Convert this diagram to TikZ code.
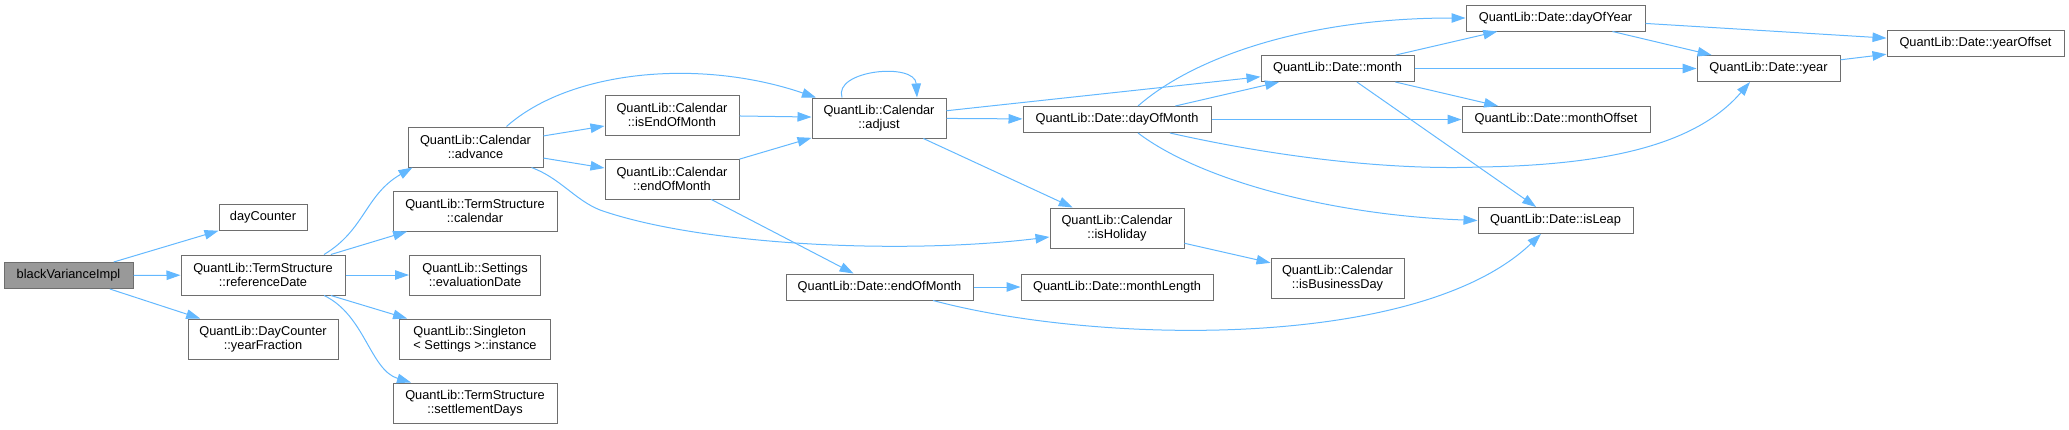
\documentclass[tikz,border=0pt]{standalone}
\usepackage{fontspec}
\setmainfont{Liberation Sans}
\usetikzlibrary{arrows.meta}
\definecolor{edgeblue}{HTML}{63B8FF}
\definecolor{nodeborder}{HTML}{6E6E6E}
\definecolor{rootfill}{HTML}{999999}
\begin{document}
\begin{tikzpicture}[x=1pt,y=-1pt,
  font=\fontsize{12.8}{14.5}\selectfont,
  fn/.style={draw=nodeborder, fill=white, line width=1pt, inner sep=0pt, align=center, minimum height=40pt},
  one/.style={fn, minimum height=26pt},
  edge/.style={draw=edgeblue, line width=1pt, -{Triangle[length=14pt,width=9.5pt]}}]
\useasboundingbox (0,0) rectangle (2069,429);
% nodes
\node[one, fill=rootfill, minimum width=129pt] (bvi) at (68.5,275.5) {blackVarianceImpl};
\node[one, minimum width=88pt] (dc) at (263,217.5) {dayCounter};
\node[fn, minimum width=164pt] (rd) at (263,275) {QuantLib::TermStructure\\::referenceDate};
\node[fn, minimum width=150pt] (yf) at (263,339) {QuantLib::DayCounter\\::yearFraction};
\node[fn, minimum width=164pt] (tsc) at (475,211) {QuantLib::TermStructure\\::calendar};
\node[fn, minimum width=131pt] (ed) at (475,275) {QuantLib::Settings\\::evaluationDate};
\node[fn, minimum width=151pt, align=left] (inst) at (475,339) {QuantLib::Singleton\\< Settings >::instance};
\node[fn, minimum width=164pt] (sd) at (475,403) {QuantLib::TermStructure\\::settlementDays};
\node[fn, minimum width=135pt] (adv) at (475.5,147) {QuantLib::Calendar\\::advance};
\node[fn, minimum width=134pt] (ieom) at (672,115) {QuantLib::Calendar\\::isEndOfMonth};
\node[fn, minimum width=134pt] (ceom) at (672,179) {QuantLib::Calendar\\::endOfMonth};
\node[fn, minimum width=134pt] (adj) at (879,118) {QuantLib::Calendar\\::adjust};
\node[one, minimum width=187pt] (deom) at (879.5,287) {QuantLib::Date::endOfMonth};
\node[one, minimum width=188pt] (dom) at (1117,119.5) {QuantLib::Date::dayOfMonth};
\node[fn, minimum width=134pt] (ih) at (1117,228) {QuantLib::Calendar\\::isHoliday};
\node[one, minimum width=192pt] (ml) at (1117,287) {QuantLib::Date::monthLength};
\node[one, minimum width=153pt] (month) at (1337.5,68.5) {QuantLib::Date::month};
\node[fn, minimum width=133pt] (ibd) at (1337.5,278) {QuantLib::Calendar\\::isBusinessDay};
\node[one, minimum width=179pt] (doy) at (1555.5,18) {QuantLib::Date::dayOfYear};
\node[one, minimum width=188pt] (mo) at (1556,119.5) {QuantLib::Date::monthOffset};
\node[one, minimum width=155pt] (il) at (1555.5,220.5) {QuantLib::Date::isLeap};
\node[one, minimum width=143pt] (year) at (1768.5,68.5) {QuantLib::Date::year};
\node[one, minimum width=177pt] (yo) at (1975.5,43.5) {QuantLib::Date::yearOffset};
% straight edges
\draw[edge] (bvi) -- (dc);
\draw[edge] (bvi) -- (rd);
\draw[edge] (bvi) -- (yf);
\draw[edge] (rd) -- (tsc);
\draw[edge] (rd) -- (ed);
\draw[edge] (rd) -- (inst);
\draw[edge] (adv) -- (ieom);
\draw[edge] (adv) -- (ceom);
\draw[edge] (ieom) -- (adj);
\draw[edge] (ceom) -- (adj);
\draw[edge] (ceom) -- (deom);
\draw[edge] (adj) -- (month);
\draw[edge] (adj) -- (dom);
\draw[edge] (adj) -- (ih);
\draw[edge] (dom) -- (month);
\draw[edge] (dom) -- (mo);
\draw[edge] (month) -- (doy);
\draw[edge] (month) -- (year);
\draw[edge] (month) -- (mo);
\draw[edge] (month) -- (il);
\draw[edge] (doy) -- (yo);
\draw[edge] (doy) -- (year);
\draw[edge] (year) -- (yo);
\draw[edge] (ih) -- (ibd);
\draw[edge] (deom) -- (ml);
% curved edges
\draw[edge] ([xshift=61pt]rd.north) .. controls (365,230) and (365,195) .. ([xshift=-63pt]adv.south);
\draw[edge] ([xshift=61pt]rd.south) .. controls (365,315) and (370,370) .. ([xshift=-64pt]sd.north);
\draw[edge] ([xshift=31pt]adv.north) .. controls (570,70) and (700,58) .. ([xshift=-63pt]adj.north);
\draw[edge] ([xshift=56pt]adv.south) .. controls (560,178) and (575,200) .. (600,210) .. controls (700,245) and (900,255) .. ([yshift=-9pt]ih.west);
\draw[edge] ([xshift=-37pt]adj.north) .. controls (833,70) and (915,62) .. ([xshift=38pt]adj.north);
\draw[edge] ([xshift=21pt]dom.north) .. controls (1190,60) and (1300,18) .. (doy.west);
\draw[edge] ([xshift=53pt]dom.south) .. controls (1290,160) and (1400,170) .. (1480,167) .. controls (1620,165) and (1700,140) .. ([xshift=-18.5pt]year.south);
\draw[edge] ([xshift=21pt]dom.south) .. controls (1200,180) and (1330,215) .. (il.west);
\draw[edge] ([xshift=53.5pt]deom.south) .. controls (1100,345) and (1420,350) .. ([xshift=-14.5pt]il.south);
\end{tikzpicture}
\end{document}
